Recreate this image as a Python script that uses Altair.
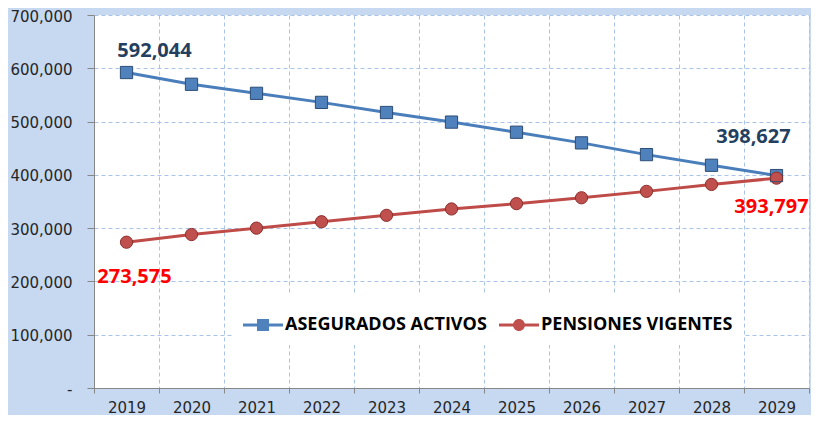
import altair as alt
import pandas as pd

years = ["2019", "2020", "2021", "2022", "2023", "2024", "2025", "2026", "2027", "2028", "2029"]
asegurados = [592044, 570000, 553000, 536000, 517000, 499000, 480000, 460000, 438000, 418000, 398627]
pensiones = [273575, 288000, 300000, 312000, 324000, 336000, 346000, 357000, 369000, 382000, 393797]
series_names = ["ASEGURADOS ACTIVOS", "PENSIONES VIGENTES"]
y_ticks = [0, 100000, 200000, 300000, 400000, 500000, 600000, 700000]

rows = []
for yr, a, p in zip(years, asegurados, pensiones):
    rows.append({"year": yr, "series": series_names[0], "value": a})
    rows.append({"year": yr, "series": series_names[1], "value": p})
df = pd.DataFrame(rows)

BG = "#c6d9f1"
GRID = "#a9c4e8"
AXIS = "#878787"
LINE_COLORS = ["#4a7ebb", "#be4b48"]
FILL_COLORS = ["#4f81bd", "#c0504d"]

SQ_PATH = "M-1,-0.075L1,-0.075L1,0.075L-1,0.075ZM-0.3,-0.3L0.3,-0.3L0.3,0.3L-0.3,0.3Z"
CI_PATH = "M-1,-0.075L1,-0.075L1,0.075L-1,0.075ZM0.3,0A0.3,0.3,0,1,1,-0.3,0A0.3,0.3,0,1,1,0.3,0Z"

x_enc = alt.X(
    "year:O",
    bandPosition=0.5,
    scale=alt.Scale(type="band", paddingInner=0, paddingOuter=0),
    axis=alt.Axis(
        title=None, labelAngle=0, tickBand="extent", grid=True,
        gridColor=GRID, gridDash=[4, 3], gridWidth=1,
        domainColor=AXIS, tickColor=AXIS, tickSize=5,
        labelFont="DejaVu Sans", labelFontSize=15, labelColor="#262626",
        labelPadding=7,
    ),
)
y_enc = alt.Y(
    "value:Q",
    scale=alt.Scale(domain=[0, 700000], nice=False),
    axis=alt.Axis(
        title=None, values=y_ticks, grid=True,
        gridColor=GRID, gridDash=[4, 3], gridWidth=1,
        domainColor=AXIS, tickColor=AXIS, tickSize=7,
        labelFont="DejaVu Sans", labelFontSize=15, labelColor="#262626",
        labelPadding=15, labelOffset=1,
        labelExpr="datum.value == 0 ? '-\u00a0\u00a0' : format(datum.value, ',')",
    ),
)


def legend_props(x, path):
    return alt.Legend(
        title=None, orient="none", direction="horizontal",
        legendX=x, legendY=279, padding=11, fillColor="white",
        symbolSize=1600, symbolType=path, symbolStrokeWidth=0,
        labelFont="Open Sans", labelFontSize=18, labelFontWeight="bold", labelColor="#000000",
        labelOffset=2, labelLimit=400,
    )


base = alt.Chart(df)

lines = base.mark_line(strokeWidth=3).encode(
    x=x_enc, y=y_enc,
    stroke=alt.Stroke("series:N", scale=alt.Scale(domain=series_names, range=LINE_COLORS), legend=None),
)

pts_a = base.transform_filter(alt.datum.series == series_names[0]).mark_point(
    filled=True, shape="square", size=150, opacity=1,
).encode(
    x=x_enc, y=y_enc,
    color=alt.Color("series:N", scale=alt.Scale(domain=[series_names[0]], range=[FILL_COLORS[0]]),
                    legend=legend_props(138, SQ_PATH)),
)

pts_b = base.transform_filter(alt.datum.series == series_names[1]).mark_point(
    filled=True, shape="circle", size=150, opacity=1,
).encode(
    x=x_enc, y=y_enc,
    fill=alt.Fill("series:N", scale=alt.Scale(domain=[series_names[1]], range=[FILL_COLORS[1]]),
                  legend=legend_props(394, CI_PATH)),
)

edge_a = base.transform_filter(alt.datum.series == series_names[0]).mark_point(
    filled=False, shape="square", size=150, opacity=1, stroke="#2c4d75", strokeWidth=1,
).encode(x=x_enc, y=y_enc)

edge_b = base.transform_filter(alt.datum.series == series_names[1]).mark_point(
    filled=False, shape="circle", size=150, opacity=1, stroke="#8b2f2c", strokeWidth=1,
).encode(x=x_enc, y=y_enc)


def label(series, year, color, dx, dy):
    return base.transform_filter(
        (alt.datum.series == series) & (alt.datum.year == year)
    ).mark_text(
        font="Open Sans", fontSize=20, fontWeight="bold", color=color,
        align="center", baseline="middle", dx=dx, dy=dy,
    ).encode(x=x_enc, y=y_enc, text=alt.Text("value:Q", format=","))


labels = [
    label(series_names[0], "2019", "#243f60", 28, -22),
    label(series_names[0], "2029", "#243f60", -23, -39),
    label(series_names[1], "2019", "#ff0000", 8, 35),
    label(series_names[1], "2029", "#ff0000", -5, 29),
]

chart = alt.layer(lines, pts_a, pts_b, edge_a, edge_b, *labels).resolve_legend(
    color="independent", fill="independent"
).properties(
    width=715, height=373,
    padding={"left": 86, "top": 7, "right": 2, "bottom": 27},
    autosize=alt.AutoSizeParams(type="none"),
    background=BG,
).configure_view(fill="white", strokeWidth=0)

chart.save("out.html", embed_options={"renderer": "svg", "actions": False})
